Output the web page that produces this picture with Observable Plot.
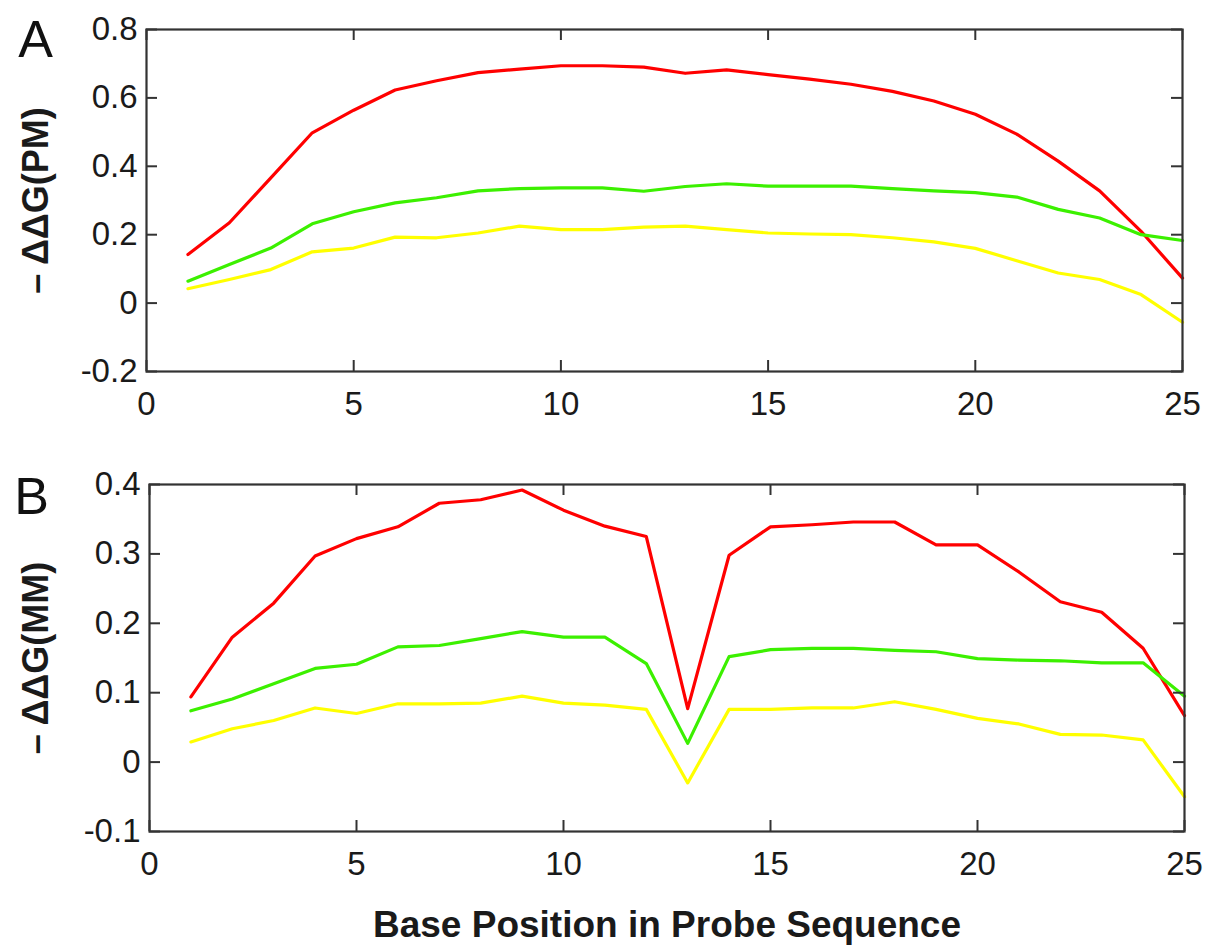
<!DOCTYPE html>
<html>
<head>
<meta charset="utf-8">
<script src="https://cdn.jsdelivr.net/npm/d3@7"></script>
<script src="https://cdn.jsdelivr.net/npm/@observablehq/plot@0.6"></script>
<style>
  html, body { margin: 0; padding: 0; background: #fff; }
  #wrap { position: relative; width: 1207px; height: 945px; overflow: hidden; }
</style>
</head>
<body>
<div id="wrap"></div>
<script>
// ---- data ----
const positions = [1,2,3,4,5,6,7,8,9,10,11,12,13,14,15,16,17,18,19,20,21,22,23,24,25];

const pmRed    = [0.142,0.235,0.366,0.498,0.564,0.623,0.650,0.674,0.684,0.694,0.694,0.690,0.672,0.682,0.668,0.655,0.640,0.619,0.591,0.552,0.494,0.415,0.328,0.210,0.073];
const pmGreen  = [0.064,0.113,0.161,0.232,0.267,0.293,0.308,0.328,0.335,0.337,0.337,0.327,0.341,0.349,0.342,0.342,0.342,0.335,0.328,0.323,0.310,0.274,0.249,0.200,0.183];
const pmYellow = [0.042,0.069,0.098,0.150,0.161,0.193,0.191,0.205,0.225,0.215,0.215,0.222,0.225,0.215,0.205,0.202,0.200,0.191,0.179,0.160,0.124,0.088,0.069,0.025,-0.056];

const mmRed    = [0.094,0.180,0.229,0.297,0.322,0.339,0.373,0.378,0.392,0.363,0.340,0.325,0.077,0.298,0.339,0.342,0.346,0.346,0.313,0.313,0.274,0.231,0.216,0.164,0.067];
const mmGreen  = [0.074,0.091,0.113,0.135,0.141,0.166,0.168,0.178,0.188,0.180,0.180,0.142,0.027,0.152,0.162,0.164,0.164,0.161,0.159,0.149,0.147,0.146,0.143,0.143,0.095];
const mmYellow = [0.029,0.048,0.060,0.078,0.070,0.084,0.084,0.085,0.095,0.085,0.082,0.076,-0.030,0.076,0.076,0.078,0.078,0.087,0.076,0.063,0.055,0.040,0.039,0.032,-0.050];

const xTicks  = [0,5,10,15,20,25];
const yTicksA = [-0.2,0,0.2,0.4,0.6,0.8];
const yTicksB = [-0.1,0,0.1,0.2,0.3,0.4];

const seriesColors = ["#ff0000", "#3cf000", "#ffff00"];
const xTitle = "Base Position in Probe Sequence";

// ---- drawing ----
const FONT = "'Liberation Sans', Arial, Helvetica, sans-serif";
const fmt = d => String(+d.toFixed(1));

function panel({top, height, mt, mb, ml, mr, yDomain, yTicks, series, yLabel, letter, letterDx, letterDy, extra = []}) {
  const width = 1207;
  const fw = width - ml - mr;
  const fh = height - mt - mb;
  const tickLen = 11;
  const lines = series.map((vals, i) => Plot.lineY(
    positions.map((p, j) => ({x: p, y: vals[j]})),
    {x: "x", y: "y", stroke: seriesColors[i], strokeWidth: 3.2, strokeLinejoin: "round"}
  ));
  const svg = Plot.plot({
    width, height,
    marginTop: mt, marginBottom: mb, marginLeft: ml, marginRight: mr,
    style: {fontFamily: FONT, fontSize: "33px", color: "#1a1a1a", background: "transparent", overflow: "visible"},
    x: {domain: [0, 25]},
    y: {domain: yDomain},
    marks: [
      ...lines,
      // inward ticks on all four sides
      Plot.tickX(xTicks, {x: d => d, insetTop: fh - tickLen, stroke: "#333", strokeWidth: 2}),
      Plot.tickX(xTicks, {x: d => d, insetBottom: fh - tickLen, stroke: "#333", strokeWidth: 2}),
      Plot.tickY(yTicks, {y: d => d, insetRight: fw - tickLen, stroke: "#333", strokeWidth: 2}),
      Plot.tickY(yTicks, {y: d => d, insetLeft: fw - tickLen, stroke: "#333", strokeWidth: 2}),
      Plot.frame({stroke: "#333", strokeWidth: 2.2}),
      Plot.axisX({ticks: xTicks, tickSize: 0, tickPadding: 20, tickFormat: fmt, label: null, fontSize: 33}),
      Plot.axisY({ticks: yTicks, tickSize: 0, tickPadding: 9, tickFormat: fmt, label: null, fontSize: 33}),
      Plot.text([yLabel], {text: d => d, frameAnchor: "left", dx: -(ml - 36), rotate: -90,
        textAnchor: "middle", lineAnchor: "middle", fontWeight: "bold", fontSize: 36, fill: "#1a1a1a"}),
      Plot.text([letter], {text: d => d, frameAnchor: "top-left", dx: letterDx, dy: letterDy,
        textAnchor: "middle", lineAnchor: "middle", fontSize: 52, fill: "#111"}),
      ...extra
    ]
  });
  svg.style.position = "absolute";
  svg.style.top = top + "px";
  svg.style.left = "0px";
  return svg;
}

const wrap = document.getElementById("wrap");

wrap.appendChild(panel({
  top: 0, height: 440, mt: 29, mb: 69, ml: 146, mr: 25,
  yDomain: [-0.2, 0.8], yTicks: yTicksA,
  series: [pmRed, pmGreen, pmYellow],
  yLabel: "– ΔΔG(PM)", letter: "A", letterDx: -111, letterDy: 11
}));

wrap.appendChild(panel({
  top: 440, height: 505, mt: 44, mb: 114, ml: 149, mr: 23,
  yDomain: [-0.1, 0.4], yTicks: yTicksB,
  series: [mmRed, mmGreen, mmYellow],
  yLabel: "– ΔΔG(MM)", letter: "B", letterDx: -118, letterDy: 13,
  extra: [
    Plot.text([xTitle], {text: d => d, frameAnchor: "bottom", dy: 94, textAnchor: "middle",
      lineAnchor: "middle", fontWeight: "bold", fontSize: 37, fill: "#1a1a1a"})
  ]
}));
</script>
</body>
</html>
